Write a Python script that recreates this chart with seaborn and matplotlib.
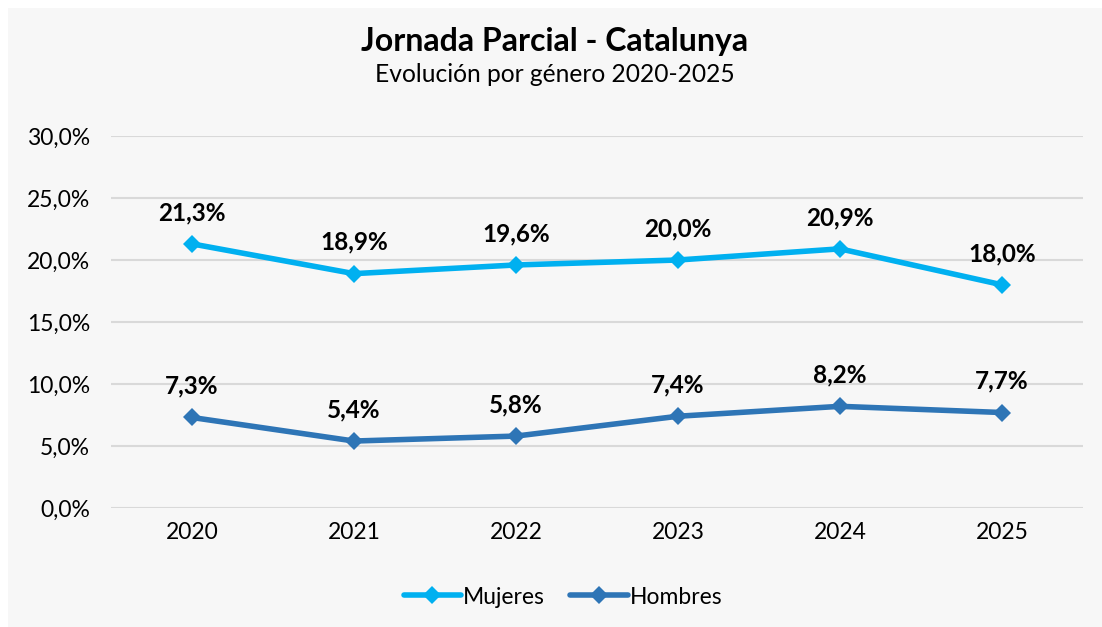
import matplotlib
matplotlib.use("Agg")
import matplotlib.pyplot as plt
import seaborn as sns
import pandas as pd
from matplotlib.patches import Rectangle

# Data
years = ["2020", "2021", "2022", "2023", "2024", "2025"]
mujeres = [21.3, 18.9, 19.6, 20.0, 20.9, 18.0]
hombres = [7.3, 5.4, 5.8, 7.4, 8.2, 7.7]
series_names = ["Mujeres", "Hombres"]
colors = ["#00b0f0", "#2e75b6"]
y_ticks = [0, 5, 10, 15, 20, 25, 30]

df = pd.DataFrame({
    "year": years * 2,
    "value": mujeres + hombres,
    "serie": [series_names[0]] * len(years) + [series_names[1]] * len(years),
})

sns.set_theme(style="white")
plt.rcParams["font.family"] = ["Lato", "DejaVu Sans"]
plt.rcParams["text.color"] = "black"

bg = "#f7f7f7"
fig = plt.figure(figsize=(11.02, 6.27), dpi=100, facecolor="white")
fig.patches.append(Rectangle((8 / 1102, 0), 1 - 8 / 1102, 1 - 8 / 627,
                             transform=fig.transFigure, facecolor=bg,
                             edgecolor="none", zorder=-10))
ax = fig.add_axes([111 / 1102, 119 / 627, 972 / 1102, 372 / 627])
ax.set_facecolor(bg)

sns.lineplot(data=df, x="year", y="value", hue="serie", palette=colors,
             marker="D", markersize=9, markeredgewidth=0, linewidth=4,
             sort=False, ax=ax)

# data labels
for vals in (mujeres, hombres):
    for i, v in enumerate(vals):
        ax.annotate(f"{v:.1f}%".replace(".", ","), (i, v),
                    xytext=(0, 22.5), textcoords="offset points",
                    ha="center", va="center", fontsize=17.5,
                    fontweight="bold", color="black")

ax.set_xlim(-0.5, len(years) - 0.5)
ax.set_ylim(0, 30)
ax.set_yticks(y_ticks)
ax.set_yticklabels([f"{t:.1f}%".replace(".", ",") for t in y_ticks])
ax.grid(axis="y", color="#d9d9d9", linewidth=1.5)
ax.set_axisbelow(True)
for s in ax.spines.values():
    s.set_visible(False)
ax.tick_params(axis="both", length=0, labelsize=16.5, colors="black")
ax.tick_params(axis="y", pad=15)
ax.tick_params(axis="x", pad=10)
ax.set_xlabel("")
ax.set_ylabel("")

leg = ax.legend(loc="center", bbox_to_anchor=(563 / 1102, 30 / 627),
                bbox_transform=fig.transFigure, ncol=2, frameon=False,
                fontsize=16.5, handlelength=2.5, handletextpad=0.1,
                columnspacing=1.1)

fig.text(555 / 1102, 1 - 42 / 627, "Jornada Parcial - Catalunya",
         ha="center", va="center", fontsize=23, fontweight="bold")
fig.text(555 / 1102, 1 - 75 / 627, "Evolución por género 2020-2025",
         ha="center", va="center", fontsize=17.7)

fig.savefig("out.png", dpi=100, facecolor="white")
